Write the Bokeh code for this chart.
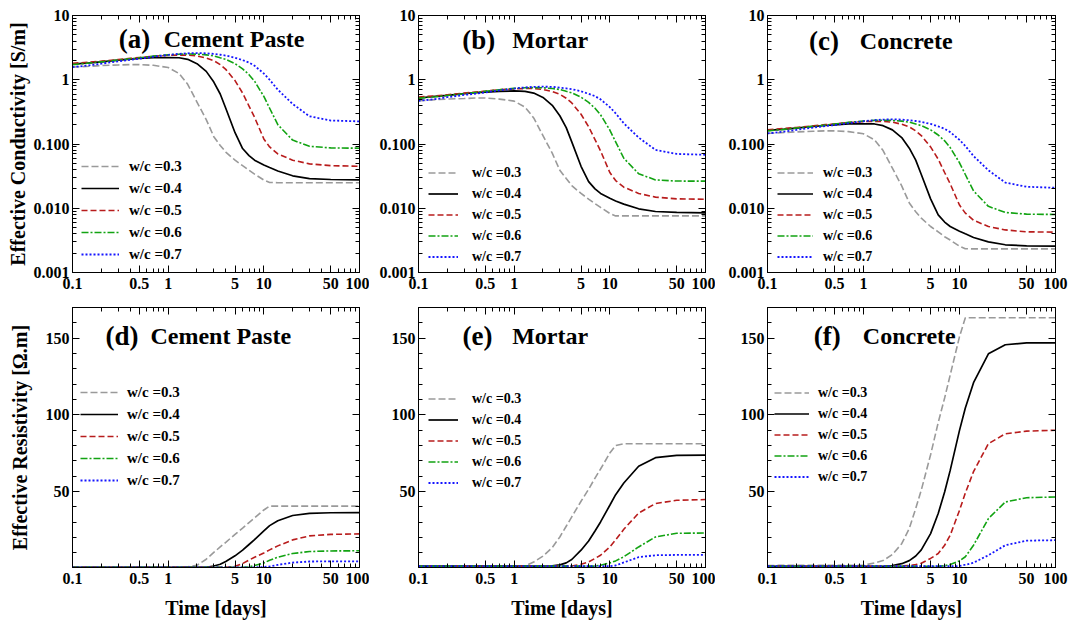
from bokeh.plotting import figure
from bokeh.models import FixedTicker, LogAxis, LinearAxis, Range1d, Legend, LegendItem
from bokeh.layouts import column, row
from bokeh.embed import file_html
from bokeh.resources import INLINE
from bokeh.core.properties import value

# ---------------- data ----------------
days = [0.1, 0.15, 0.2, 0.3, 0.4, 0.5, 0.7, 1, 1.3, 1.6, 2, 2.5, 3, 3.5, 4, 5, 6, 7, 8, 10, 11.5, 14, 20, 30, 50, 100]
wc_labels = ["w/c =0.3", "w/c =0.4", "w/c =0.5", "w/c =0.6", "w/c =0.7"]

# effective conductivity [S/m] - cement paste
cond_paste_03 = [1.57, 1.62, 1.66, 1.70, 1.72, 1.72, 1.68, 1.55, 1.25, 0.85, 0.45, 0.24, 0.13, 0.095, 0.075, 0.056, 0.046, 0.039, 0.034, 0.0275, 0.0252, 0.025, 0.025, 0.025, 0.025, 0.025]
cond_paste_04 = [1.75, 1.83, 1.90, 2.02, 2.09, 2.14, 2.20, 2.22, 2.20, 2.08, 1.78, 1.35, 0.92, 0.60, 0.36, 0.15, 0.085, 0.066, 0.056, 0.047, 0.043, 0.038, 0.032, 0.029, 0.028, 0.0277]
cond_paste_05 = [1.80, 1.88, 1.95, 2.06, 2.15, 2.22, 2.32, 2.40, 2.42, 2.42, 2.35, 2.18, 1.98, 1.72, 1.45, 0.97, 0.62, 0.39, 0.26, 0.12, 0.09, 0.070, 0.056, 0.049, 0.046, 0.045]
cond_paste_06 = [1.72, 1.82, 1.90, 2.02, 2.12, 2.20, 2.33, 2.45, 2.50, 2.52, 2.50, 2.44, 2.35, 2.20, 2.08, 1.78, 1.48, 1.20, 0.95, 0.55, 0.36, 0.20, 0.115, 0.092, 0.087, 0.086]
cond_paste_07 = [1.57, 1.68, 1.78, 1.93, 2.04, 2.12, 2.28, 2.43, 2.53, 2.58, 2.60, 2.58, 2.52, 2.45, 2.38, 2.20, 2.02, 1.85, 1.65, 1.25, 1.00, 0.70, 0.42, 0.27, 0.232, 0.225]

# effective conductivity [S/m] - mortar
cond_mortar_03 = [0.47, 0.49, 0.50, 0.51, 0.52, 0.52, 0.50, 0.465, 0.375, 0.255, 0.135, 0.072, 0.039, 0.029, 0.0225, 0.017, 0.0139, 0.0118, 0.0103, 0.0083, 0.0076, 0.0076, 0.0076, 0.0076, 0.0076, 0.0076]
cond_mortar_04 = [0.52, 0.55, 0.57, 0.61, 0.63, 0.64, 0.66, 0.67, 0.66, 0.62, 0.53, 0.40, 0.275, 0.18, 0.108, 0.045, 0.026, 0.020, 0.017, 0.0143, 0.013, 0.0116, 0.0098, 0.0089, 0.0086, 0.0085]
cond_mortar_05 = [0.54, 0.56, 0.585, 0.62, 0.645, 0.665, 0.70, 0.72, 0.73, 0.73, 0.705, 0.655, 0.595, 0.515, 0.435, 0.29, 0.186, 0.117, 0.078, 0.036, 0.027, 0.0213, 0.0170, 0.0149, 0.0140, 0.0138]
cond_mortar_06 = [0.515, 0.545, 0.57, 0.605, 0.635, 0.66, 0.70, 0.735, 0.75, 0.755, 0.75, 0.73, 0.705, 0.66, 0.625, 0.535, 0.445, 0.36, 0.285, 0.165, 0.108, 0.060, 0.0345, 0.0276, 0.0265, 0.0264]
cond_mortar_07 = [0.47, 0.50, 0.535, 0.58, 0.61, 0.635, 0.685, 0.73, 0.76, 0.775, 0.78, 0.775, 0.755, 0.735, 0.715, 0.66, 0.605, 0.555, 0.495, 0.375, 0.30, 0.21, 0.126, 0.081, 0.070, 0.068]

# effective conductivity [S/m] - concrete
cond_concrete_03 = [0.146, 0.151, 0.154, 0.158, 0.160, 0.160, 0.156, 0.144, 0.116, 0.079, 0.042, 0.0223, 0.0121, 0.0088, 0.0070, 0.0052, 0.0043, 0.0036, 0.0032, 0.00256, 0.00234, 0.00233, 0.00233, 0.00233, 0.00233, 0.00233]
cond_concrete_04 = [0.163, 0.170, 0.177, 0.188, 0.194, 0.199, 0.205, 0.206, 0.205, 0.193, 0.166, 0.126, 0.086, 0.056, 0.0335, 0.014, 0.0079, 0.0061, 0.0052, 0.0044, 0.0040, 0.0035, 0.0030, 0.0027, 0.0026, 0.00257]
cond_concrete_05 = [0.167, 0.175, 0.181, 0.192, 0.200, 0.206, 0.216, 0.223, 0.225, 0.225, 0.219, 0.203, 0.184, 0.160, 0.135, 0.090, 0.058, 0.036, 0.024, 0.0112, 0.0084, 0.0065, 0.0052, 0.0046, 0.0043, 0.00424]
cond_concrete_06 = [0.160, 0.169, 0.177, 0.188, 0.197, 0.205, 0.217, 0.228, 0.233, 0.234, 0.233, 0.227, 0.219, 0.205, 0.193, 0.166, 0.138, 0.112, 0.088, 0.051, 0.0335, 0.0186, 0.0107, 0.0086, 0.0081, 0.0080]
cond_concrete_07 = [0.146, 0.156, 0.166, 0.180, 0.190, 0.197, 0.212, 0.226, 0.235, 0.240, 0.242, 0.240, 0.234, 0.228, 0.221, 0.205, 0.188, 0.172, 0.153, 0.116, 0.093, 0.065, 0.039, 0.0251, 0.0216, 0.0208]

# effective resistivity [Ohm.m] - cement paste
res_paste_03 = [0.6, 0.6, 0.6, 0.6, 0.6, 0.6, 0.6, 0.6, 0.6, 1.0, 1.9, 5.9, 10.3, 13.9, 16.9, 22.1, 26.2, 29.8, 32.8, 38.0, 40.5, 40.5, 40.5, 40.5, 40.5, 40.5]
res_paste_04 = [0.6, 0.6, 0.6, 0.6, 0.6, 0.6, 0.6, 0.6, 0.6, 0.6, 0.6, 0.6, 1.5, 2.6, 4.4, 8.1, 11.8, 15.5, 18.7, 24.3, 27.8, 31.0, 34.4, 35.8, 36.2, 36.3]
res_paste_05 = [0.6, 0.6, 0.6, 0.6, 0.6, 0.6, 0.6, 0.6, 0.6, 0.6, 0.6, 0.6, 0.6, 0.6, 0.6, 1.3, 3.1, 5.3, 7.2, 10.0, 12.0, 14.6, 18.5, 21.1, 22.1, 22.4]
res_paste_06 = [0.6, 0.6, 0.6, 0.6, 0.6, 0.6, 0.6, 0.6, 0.6, 0.6, 0.6, 0.6, 0.6, 0.6, 0.6, 0.6, 0.6, 0.9, 1.8, 3.5, 5.2, 7.2, 9.6, 10.9, 11.3, 11.4]
res_paste_07 = [0.6, 0.6, 0.6, 0.6, 0.6, 0.6, 0.6, 0.6, 0.6, 0.6, 0.6, 0.6, 0.6, 0.6, 0.6, 0.6, 0.6, 0.6, 0.6, 0.8, 1.2, 2.2, 3.7, 4.4, 4.5, 4.5]

# effective resistivity [Ohm.m] - mortar
res_mortar_03 = [1.4, 1.4, 1.4, 1.4, 1.4, 1.4, 1.4, 1.4, 1.6, 4.1, 7.9, 13.5, 20.4, 27.4, 33.5, 43.7, 51.5, 58.8, 64.7, 75.1, 80.0, 81.2, 81.2, 81.2, 81.2, 81.2]
res_mortar_04 = [1.4, 1.4, 1.4, 1.4, 1.4, 1.4, 1.4, 1.4, 1.4, 1.4, 1.4, 1.6, 2.2, 3.5, 5.7, 11.8, 17.8, 24.3, 30.2, 41.1, 48.0, 55.6, 66.5, 72.1, 73.6, 73.8]
res_mortar_05 = [1.4, 1.4, 1.4, 1.4, 1.4, 1.4, 1.4, 1.4, 1.4, 1.4, 1.4, 1.4, 1.4, 1.4, 1.5, 2.6, 4.1, 6.4, 8.5, 13.9, 18.5, 25.4, 36.0, 42.2, 44.3, 44.8]
res_mortar_06 = [1.4, 1.4, 1.4, 1.4, 1.4, 1.4, 1.4, 1.4, 1.4, 1.4, 1.4, 1.4, 1.4, 1.4, 1.4, 1.4, 1.4, 1.4, 2.0, 3.5, 4.8, 7.5, 13.9, 20.4, 22.8, 23.0]
res_mortar_07 = [1.4, 1.4, 1.4, 1.4, 1.4, 1.4, 1.4, 1.4, 1.4, 1.4, 1.4, 1.4, 1.4, 1.4, 1.4, 1.4, 1.4, 1.4, 1.4, 1.4, 1.8, 3.8, 7.2, 8.5, 8.7, 8.7]

# effective resistivity [Ohm.m] - concrete
res_concrete_03 = [1.8, 1.9, 2.0, 2.0, 2.0, 2.0, 2.0, 2.0, 3.5, 5.0, 9.0, 16.0, 26.0, 39.0, 51.0, 74.0, 95.0, 111.0, 126.0, 151.0, 163.3, 163.3, 163.3, 163.3, 163.3, 163.3]
res_concrete_04 = [1.3, 1.3, 1.3, 1.3, 1.3, 1.3, 1.3, 1.3, 1.3, 1.3, 1.8, 3.0, 5.0, 8.0, 12.0, 22.6, 35.7, 49.7, 63.8, 89.9, 104.5, 121.0, 139.8, 145.7, 147.0, 147.0]
res_concrete_05 = [1.3, 1.3, 1.3, 1.3, 1.3, 1.3, 1.3, 1.3, 1.3, 1.3, 1.3, 1.5, 1.8, 2.4, 3.3, 6.4, 9.6, 15.0, 21.5, 37.8, 49.0, 63.0, 81.2, 87.7, 89.4, 90.0]
res_concrete_06 = [1.3, 1.3, 1.3, 1.3, 1.3, 1.3, 1.3, 1.3, 1.3, 1.3, 1.3, 1.3, 1.3, 1.3, 1.3, 1.3, 1.3, 1.6, 2.5, 4.8, 7.5, 15.0, 32.4, 43.2, 46.0, 46.5]
res_concrete_07 = [1.3, 1.3, 1.3, 1.3, 1.3, 1.3, 1.3, 1.3, 1.3, 1.3, 1.3, 1.3, 1.3, 1.3, 1.3, 1.3, 1.3, 1.3, 1.3, 1.5, 2.3, 3.6, 8.5, 15.0, 18.0, 18.3]

# tick labels
x_tick_labels = {0.1: "0.1", 0.5: "0.5", 1: "1", 5: "5", 10: "10", 50: "50", 100: "100"}
y_log_tick_labels = {0.001: "0.001", 0.01: "0.010", 0.1: "0.100", 1: "1", 10: "10"}
y_lin_ticks = [50, 100, 150]

# ---------------- styles ----------------
FONT = "Liberation Serif"
STYLES = [
    dict(line_color="#9a9a9a", line_dash="7 3", line_width=1.6),
    dict(line_color="#000000", line_dash="solid", line_width=1.7),
    dict(line_color="#b81c1c", line_dash="6 3", line_width=1.6),
    dict(line_color="#12a312", line_dash="7 2 2 2", line_width=1.6),
    dict(line_color="#1515ff", line_dash="2 2", line_width=1.8),
]

x_minor = [k * d for d in (0.1, 1, 10) for k in (2, 3, 4, 6, 7, 8, 9)]
y_log_minor = [k * d for d in (0.001, 0.01, 0.1, 1) for k in range(2, 10)]
y_lin_minor = [v for v in range(10, 171, 10) if v not in y_lin_ticks]


def style_axis(ax, size="16px", standoff=4):
    ax.axis_line_color = "black"
    ax.axis_line_width = 1
    ax.major_tick_in = 7
    ax.major_tick_out = 0
    ax.minor_tick_in = 4
    ax.minor_tick_out = 0
    ax.major_tick_line_color = "black"
    ax.minor_tick_line_color = "black"
    ax.major_label_text_font = FONT
    ax.major_label_text_font_style = "bold"
    ax.major_label_text_color = "black"
    ax.major_label_text_font_size = size
    ax.major_label_standoff = standoff


def blank_axis(ax, ticks):
    style_axis(ax, "5px", 0)
    ax.major_label_overrides = {t: "" for t in ticks}
    ax.major_label_text_alpha = 0


def axis_title(ax, text, standoff):
    ax.axis_label = text
    ax.axis_label_text_font = FONT
    ax.axis_label_text_font_style = "bold"
    ax.axis_label_text_font_size = "20px"
    ax.axis_label_text_color = "black"
    ax.axis_label_standoff = standoff


COLS = [dict(width=369, left=72, right=10),
        dict(width=346, left=49, right=10),
        dict(width=364, left=52, right=24)]


def make_panel(col, top, series, letter, name, lx, nx, ty, leg):
    c = COLS[col]
    if top:
        height, btop, bbot = 296, 15, 24
        yr = Range1d(0.001, 10)
        ytype = "log"
    else:
        height, btop, bbot = 329, 11, 58
        yr = Range1d(0.5, 170)
        ytype = "linear"
    p = figure(width=c["width"], height=height, x_axis_type="log", y_axis_type=ytype,
               x_range=Range1d(0.1, 100), y_range=yr,
               min_border_left=c["left"], min_border_right=c["right"],
               min_border_top=btop, min_border_bottom=bbot,
               output_backend="svg", toolbar_location=None)
    p.grid.visible = False
    p.outline_line_color = "black"
    p.outline_line_width = 1
    p.background_fill_color = "white"
    p.border_fill_color = "white"

    x_major = list(x_tick_labels.keys())
    y_major = list(y_log_tick_labels.keys()) if top else y_lin_ticks
    y_minor = y_log_minor if top else y_lin_minor

    xa = p.xaxis[0]
    xa.ticker = FixedTicker(ticks=x_major, minor_ticks=x_minor)
    xa.major_label_overrides = x_tick_labels
    style_axis(xa, "16px", 5)
    ya = p.yaxis[0]
    ya.ticker = FixedTicker(ticks=y_major, minor_ticks=y_minor)
    if top:
        ya.major_label_overrides = y_log_tick_labels
    style_axis(ya, "16px", 3)

    ta = LogAxis(ticker=FixedTicker(ticks=x_major, minor_ticks=x_minor))
    blank_axis(ta, x_major)
    p.add_layout(ta, "above")
    if top:
        ra = LogAxis(ticker=FixedTicker(ticks=y_major, minor_ticks=y_minor))
    else:
        ra = LinearAxis(ticker=FixedTicker(ticks=y_major, minor_ticks=y_minor))
    blank_axis(ra, y_major)
    p.add_layout(ra, "right")

    if col == 0:
        axis_title(ya, "Effective Conductivity [S/m]" if top else "Effective Resistivity [Ω.m]",
                   2 if top else 12)
    if not top:
        axis_title(xa, "Time [days]", 10)

    items = []
    for vals, lab, st in zip(series, wc_labels, STYLES):
        r = p.line(days, vals, **st)
        items.append(LegendItem(label=lab, renderers=[r]))

    legend = Legend(items=items, location=(leg["x"], leg["y"]),
                    border_line_alpha=0, background_fill_alpha=0,
                    padding=1, margin=0, spacing=0,
                    label_height=leg["pitch"], glyph_height=leg["pitch"],
                    glyph_width=leg["gw"], label_standoff=leg["so"],
                    label_text_font=FONT, label_text_font_style="bold",
                    label_text_font_size=leg["fs"], label_text_color="black")
    p.add_layout(legend)

    p.text(x=[lx], y=[ty], text=[letter], text_font=value(FONT), text_font_style="bold",
           text_font_size="27px", text_baseline="alphabetic", text_align="left", text_color="black")
    p.text(x=[nx], y=[ty], text=[name], text_font=value(FONT), text_font_style="bold",
           text_font_size="24px", text_baseline="alphabetic", text_align="left", text_color="black")
    return p


pa = make_panel(0, True, [cond_paste_03, cond_paste_04, cond_paste_05, cond_paste_06, cond_paste_07],
                "(a)", "Cement Paste", 0.305, 0.90, 4.31,
                dict(x=8, y=6, pitch=22, gw=38, so=10, fs="15px"))
pb = make_panel(1, True, [cond_mortar_03, cond_mortar_04, cond_mortar_05, cond_mortar_06, cond_mortar_07],
                "(b)", "Mortar", 0.287, 0.953, 4.23,
                dict(x=9, y=4, pitch=21, gw=30, so=14, fs="14px"))
pc = make_panel(2, True, [cond_concrete_03, cond_concrete_04, cond_concrete_05, cond_concrete_06, cond_concrete_07],
                "(c)", "Concrete", 0.27, 0.915, 4.01,
                dict(x=9, y=4, pitch=21, gw=36, so=10, fs="14px"))
pd = make_panel(0, False, [res_paste_03, res_paste_04, res_paste_05, res_paste_06, res_paste_07],
                "(d)", "Cement Paste", 0.221, 0.653, 151.4,
                dict(x=7, y=75, pitch=22, gw=38, so=9, fs="15px"))
pe = make_panel(1, False, [res_mortar_03, res_mortar_04, res_mortar_05, res_mortar_06, res_mortar_07],
                "(e)", "Mortar", 0.288, 0.953, 151.4,
                dict(x=9, y=73, pitch=21, gw=30, so=14, fs="14px"))
pf = make_panel(2, False, [res_concrete_03, res_concrete_04, res_concrete_05, res_concrete_06, res_concrete_07],
                "(f)", "Concrete", 0.304, 0.984, 151.4,
                dict(x=6, y=79, pitch=21, gw=35, so=9, fs="14px"))

layout = column(row(pa, pb, pc), row(pd, pe, pf))
open("out.html", "w").write(file_html(layout, INLINE))
